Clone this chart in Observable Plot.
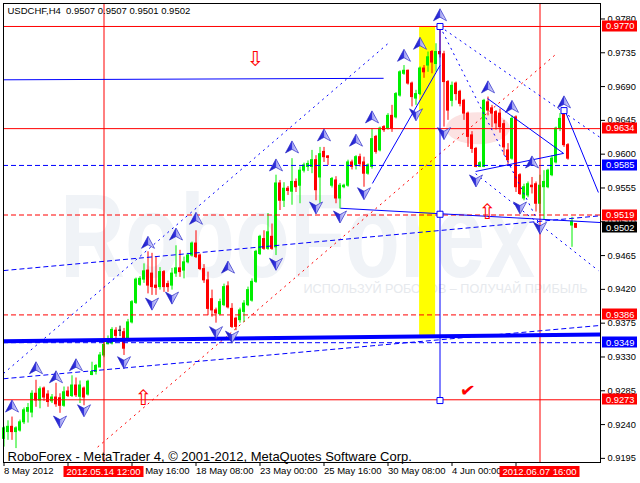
<!DOCTYPE html>
<html><head><meta charset="utf-8">
<script src="https://cdn.jsdelivr.net/npm/d3@7"></script>
<script src="https://cdn.jsdelivr.net/npm/@observablehq/plot@0.6"></script>
<style>html,body{margin:0;padding:0;background:#fff} svg{display:block}</style>
</head><body><div id="chart"></div>
<script>
// ---------- texts ----------
const symbolTitle = "USDCHF,H4\u00a0 0.9507 0.9507 0.9501 0.9502";
const footerText = "RoboForex - MetaTrader 4, \u00a9 2001-2012, MetaQuotes Software Corp.";
const watermarkText = "RoboForex";
const taglineText = "ИСПОЛЬЗУЙ РОБОТОВ – ПОЛУЧАЙ ПРИБЫЛЬ";

// ---------- H4 candles (price in 1/10000) ----------
const barOpen = [9221,9230,9237,9230,9232,9243,9257,9256,9281,9272, 9288,9280,9271,9276,9275,9265,9284,9278,9292,9277,
 9288,9280,9306,9310,9316,9332,9347,9348,9365,9365, 9363,9352,9376,9402,9426,9433,9445,9441,9425,9423,
 9443,9427,9425,9441,9448,9445,9456,9465,9481,9465, 9447,9432,9407,9392,9387,9399,9424,9394,9381,9379,
 9390,9399,9405,9430,9467,9487,9474,9490,9476,9561, 9538,9554,9550,9563,9558,9578,9583,9583,9592,9569,
 9603,9597,9558,9565,9541,9556,9558,9589,9585,9596, 9589,9574,9583,9623,9605,9636,9634,9651,9649,9678,
 9707,9711,9694,9674,9680,9714,9718,9736,9720,9736, 9733,9696,9671,9694,9683,9671,9654,9625,9607,9583,
 9583,9669,9661,9656,9654,9640,9605,9594,9649,9572, 9541,9545,9558,9560,9534,9556,9556,9572,9589,9634,
 9656,9612,9505,9507];
const barHigh = [9237,9245,9250,9237,9246,9262,9268,9285,9299,9290, 9290,9285,9280,9295,9281,9290,9290,9305,9302,9298,
 9290,9299,9323,9320,9336,9351,9358,9369,9369,9371, 9368,9380,9405,9435,9437,9454,9470,9468,9463,9449,
 9445,9431,9448,9478,9472,9463,9468,9483,9498,9467, 9453,9443,9419,9395,9407,9427,9430,9401,9383,9395,
 9405,9423,9434,9472,9492,9498,9521,9507,9572,9565, 9562,9557,9594,9567,9583,9588,9591,9605,9598,9609,
 9609,9598,9569,9570,9561,9560,9592,9592,9598,9600, 9596,9587,9634,9625,9636,9638,9654,9665,9682,9711,
 9718,9712,9696,9685,9716,9718,9736,9738,9747,9770, 9737,9698,9696,9696,9685,9673,9656,9630,9609,9590,
 9673,9676,9665,9658,9660,9645,9614,9651,9651,9574, 9560,9563,9569,9563,9572,9578,9580,9598,9636,9654,
 9660,9614,9516,9507];
const barLow = [9210,9219,9219,9208,9230,9240,9242,9249,9263,9261, 9271,9263,9268,9263,9255,9263,9276,9276,9276,9268,
 9265,9278,9305,9306,9316,9329,9346,9346,9353,9357, 9332,9350,9374,9400,9424,9428,9414,9412,9412,9419,
 9416,9416,9419,9436,9436,9434,9454,9463,9461,9445, 9428,9385,9383,9375,9385,9397,9394,9368,9365,9375,
 9376,9397,9403,9428,9465,9472,9472,9472,9465,9525, 9529,9545,9532,9549,9534,9575,9577,9574,9538,9534,
 9589,9585,9555,9534,9527,9554,9556,9579,9579,9583, 9556,9572,9580,9600,9603,9629,9632,9629,9647,9676,
 9705,9692,9663,9665,9678,9701,9709,9707,9709,9728, 9636,9645,9663,9671,9663,9645,9609,9601,9582,9582,
 9582,9651,9635,9632,9628,9598,9585,9592,9549,9545, 9538,9542,9547,9523,9521,9512,9554,9570,9587,9630,
 9609,9592,9476,9501];
const barClose = [9235,9237,9230,9235,9243,9259,9262,9281,9272,9287, 9276,9270,9276,9267,9265,9283,9278,9292,9279,9292,
 9276,9297,9310,9318,9332,9346,9353,9366,9358,9365, 9341,9376,9403,9433,9434,9444,9425,9423,9422,9443,
 9423,9423,9441,9448,9443,9456,9465,9481,9463,9447, 9432,9394,9392,9388,9403,9423,9396,9370,9370,9392,
 9401,9419,9430,9470,9490,9474,9496,9474,9561,9538, 9554,9551,9563,9556,9578,9585,9587,9592,9552,9600,
 9596,9595,9567,9541,9558,9558,9589,9583,9596,9587, 9574,9585,9620,9603,9634,9632,9651,9634,9680,9709,
 9711,9694,9676,9680,9714,9709,9729,9722,9736,9733, 9696,9658,9691,9680,9667,9654,9623,9607,9583,9588,
 9671,9658,9654,9641,9636,9609,9592,9647,9556,9547, 9556,9560,9556,9534,9558,9563,9578,9594,9634,9647,
 9612,9594,9510,9502];

// ---------- axes ----------
const yTickValues = [0.9195,0.9240,0.9285,0.9330,0.9375,0.9420,0.9465,0.9510,0.9555,0.9600,0.9645,0.9690,0.9735,0.9780];
const xTickBars = [0,16,32,48,64,80,96,112,128];
const xTickLabels = ["8 May 2012","11 May 00:00","15 May 16:00","18 May 08:00","23 May 00:00","25 May 16:00","30 May 08:00","4 Jun 00:00","6 Jun 16:00"];
const crosshairBars = [25, 134];
const crosshairLabels = ["2012.05.14 12:00", "2012.06.07 16:00"];

// ---------- horizontal levels ----------
const redSolidLevels = [0.9770, 0.9634, 0.9273];
const redDashLevels = [0.9519, 0.9386];
const blueDashLevels = [0.9585, 0.9349];

// ---------- fractals ----------
const fractalUpBar = [2,8,13,18,36,43,48,56,68,72,80,88,92,100,104,109,121,127,132,140];
const fractalUpPrice = [0.9264,0.9315,0.9303,0.9319,0.9482,0.9493,0.9514,0.9449,0.9585,0.9609,0.9625,0.9618,0.9649,0.9731,0.9747,0.9785,0.9689,0.9663,0.9589,0.9669];
const fractalDownBar = [14,20,30,37,42,53,57,68,78,84,90,103,110,118,129,134];
const fractalDownPrice = [0.9244,0.9259,0.9323,0.9401,0.9409,0.9363,0.9357,0.9454,0.9529,0.9517,0.9548,0.9653,0.9628,0.9565,0.9529,0.9502];

// ---------- drawn objects: [bar1, price1, bar2, price2] ----------
const blueDottedLines = [[-0.125,0.9308,96.6,0.9750],[109,0.9770,149.1,0.9622],[109,0.9770,134.1,0.9504],[117.9,0.9574,148.6,0.9445]];
const blueDashedLines = [[-0.125,0.9445,149.1,0.9518],[-0.125,0.9301,149.1,0.9372]];
const redDottedLines = [[23.4,0.9210,138.4,0.9735]];
const blueSolidLines = [[-0.125,0.9699,94.9,0.9701],[92.1,0.9561,109,0.9718],[84.1,0.9528,149.1,0.9509],
  [120.9,0.9674,139.9,0.9601],[117.9,0.9577,139.9,0.9601],[140.4,0.9656,148.6,0.9549],[109,0.9770,109,0.9273]];
const blueThickLines = [[-0.125,0.9351,149.1,0.9360]];
const anchorSquares = [[109,0.9770],[109,0.9520],[109,0.9272],[140,0.9658]];
const yellowZone = [[103.9,0.9358,107.9,0.9770]];
const pinkZone = [[118.6,0.9634]];
const redArrowUp = [[34.9,0.9275],[120.9,0.9522]];
const redArrowDown = [[62.9,0.9727]];
const redCheck = [[115.9,0.9285]];

// ---------- build ----------
const FONT = "'Liberation Sans',Arial,sans-serif";
const bars = barOpen.map((o, i) => ({i, open: o/1e4, high: barHigh[i]/1e4, low: barLow[i]/1e4, close: barClose[i]/1e4}));
const candleColor = d => d.close > d.open ? "#00ee00" : d.close < d.open ? "#ff0000" : "#000000";
const seg = a => a.map(([b1,p1,b2,p2]) => ({b1,p1,b2,p2}));
const pts = a => a.map(([b,p]) => ({b,p}));
const lastClose = bars[bars.length-1].close;
const tags = [
  ...redSolidLevels.map(v => ({v, c: "#ff0000"})),
  ...redDashLevels.map(v => ({v, c: "#ff0000"})),
  ...blueDashLevels.map(v => ({v, c: "#0000ff"})),
  {v: lastClose, c: "#000000"}
];

const upSym = {draw(ctx, size){const r=Math.sqrt(size/Math.PI);ctx.moveTo(0,-r);ctx.lineTo(r,r*0.85);ctx.lineTo(0,r*0.3);ctx.lineTo(-r,r*0.85);ctx.closePath();}};
const downSym = {draw(ctx, size){const r=Math.sqrt(size/Math.PI);ctx.moveTo(0,r);ctx.lineTo(r,-r*0.85);ctx.lineTo(0,-r*0.3);ctx.lineTo(-r,-r*0.85);ctx.closePath();}};

const defsMark = () => {
  const g = d3.create("svg:g");
  const lg = g.append("defs").append("linearGradient").attr("id","fracGrad").attr("x1","0").attr("x2","1").attr("y1","0").attr("y2","0");
  lg.append("stop").attr("offset","0").attr("stop-color","#1010c0");
  lg.append("stop").attr("offset","0.5").attr("stop-color","#3a3ae0");
  lg.append("stop").attr("offset","0.5").attr("stop-color","#9a9af0");
  lg.append("stop").attr("offset","1").attr("stop-color","#eeeeff");
  return g.node();
};
const watermarkMark = (index, scales, values, dims) => {
  const g = d3.create("svg:g");
  const cx = (dims.marginLeft + dims.width - dims.marginRight) / 2;
  const cy = (dims.marginTop + dims.height - dims.marginBottom) / 2;
  g.append("text").attr("x", cx - 4).attr("y", cy + 44).attr("text-anchor","middle")
    .attr("font-family","'Liberation Sans',Arial,sans-serif").attr("font-weight","bold").attr("font-size",118)
    .attr("fill","#f0f3f7").attr("textLength",475).attr("lengthAdjust","spacingAndGlyphs").text(watermarkText);
  g.append("text").attr("x", cx + 144).attr("y", cy + 60).attr("text-anchor","middle")
    .attr("font-family","'Liberation Sans',Arial,sans-serif").attr("font-size",13)
    .attr("fill","#e6e9ed").attr("textLength",284).attr("lengthAdjust","spacingAndGlyphs").text(taglineText);
  return g.node();
};
const ellipseMark = (index, scales) => {
  const g = d3.create("svg:g");
  for (const [b,p] of pinkZone) g.append("ellipse").attr("cx", scales.x(b)).attr("cy", scales.y(p)).attr("rx",32).attr("ry",16).attr("fill","#fce2e2");
  return g.node();
};
const tagMark = (index, scales, values, dims) => {
  const g = d3.create("svg:g").attr("font-family", FONT).attr("font-size", 9.3);
  const x0 = dims.width - dims.marginRight + 2;
  for (const t of tags) {
    const y = scales.y(t.v);
    g.append("rect").attr("x", x0).attr("y", Math.round(y) - 5.5).attr("width", 35).attr("height", 11).attr("fill", t.c);
    g.append("text").attr("x", x0 + 4).attr("y", y).attr("dy","0.36em").attr("text-anchor","start").attr("fill","white").text(t.v.toFixed(4));
  }
  return g.node();
};
const timeTagMark = (index, scales, values, dims) => {
  const g = d3.create("svg:g").attr("font-family", FONT).attr("font-size", 9.5);
  const y0 = dims.height - dims.marginBottom + 4;
  crosshairBars.forEach((b, k) => {
    const x = scales.x(b);
    g.append("rect").attr("x", x - 40).attr("y", y0).attr("width", 80).attr("height", 11).attr("fill", "#ff0000");
    g.append("text").attr("x", x).attr("y", y0 + 5.5).attr("dy","0.36em").attr("text-anchor","middle").attr("fill","white").text(crosshairLabels[k]);
  });
  return g.node();
};

const chart = Plot.plot({
  width: 640, height: 483,
  marginLeft: 3, marginRight: 40, marginTop: 3, marginBottom: 21,
  x: {type: "linear", domain: [-0.125, 149.125]},
  y: {type: "linear", domain: [0.91895, 0.98006]},
  style: {fontFamily: FONT, fontSize: "9.5px", background: "white", color: "black", overflow: "visible"},
  marks: [
    defsMark,
    watermarkMark,
    Plot.rect(seg(yellowZone), {x1: "b1", y1: "p1", x2: "b2", y2: "p2", fill: "#ffff00"}),
    ellipseMark,
    Plot.ruleX(bars, {x: "i", y1: "low", y2: "high", stroke: candleColor}),
    Plot.rect(bars, {x1: d => d.i - 0.375, x2: d => d.i + 0.375, y1: "open", y2: "close", fill: candleColor, insetTop: -0.5, insetBottom: -0.5}),
    Plot.ruleY(redSolidLevels, {stroke: "#ff0000"}),
    Plot.ruleY(redDashLevels, {stroke: "#ff0000", strokeDasharray: "5,3"}),
    Plot.ruleY(blueDashLevels, {stroke: "#0000ff", strokeDasharray: "5,3"}),
    Plot.ruleX(crosshairBars, {stroke: "#ff0000"}),
    Plot.link(seg(blueDottedLines), {x1: "b1", y1: "p1", x2: "b2", y2: "p2", stroke: "#0000ff", strokeDasharray: "2,4"}),
    Plot.link(seg(redDottedLines), {x1: "b1", y1: "p1", x2: "b2", y2: "p2", stroke: "#ff0000", strokeDasharray: "2,4"}),
    Plot.link(seg(blueDashedLines), {x1: "b1", y1: "p1", x2: "b2", y2: "p2", stroke: "#0000ff", strokeDasharray: "5,3"}),
    Plot.link(seg(blueSolidLines), {x1: "b1", y1: "p1", x2: "b2", y2: "p2", stroke: "#0000ff"}),
    Plot.link(seg(blueThickLines), {x1: "b1", y1: "p1", x2: "b2", y2: "p2", stroke: "#0000ff", strokeWidth: 4}),
    Plot.dot(fractalUpBar.map((b, k) => ({b, p: fractalUpPrice[k]})), {x: "b", y: "p", symbol: upSym, r: 6.5, fill: "url(#fracGrad)", stroke: "#2828c8", strokeWidth: 0.7}),
    Plot.dot(fractalDownBar.map((b, k) => ({b, p: fractalDownPrice[k]})), {x: "b", y: "p", symbol: downSym, r: 6.5, fill: "url(#fracGrad)", stroke: "#2828c8", strokeWidth: 0.7}),
    Plot.text(pts(redArrowUp), {x: "b", y: "p", text: () => "\u21e7", fill: "#ff0000", fontSize: 21, fontFamily: "DejaVu Sans"}),
    Plot.text(pts(redArrowDown), {x: "b", y: "p", text: () => "\u21e9", fill: "#ff0000", fontSize: 21, fontFamily: "DejaVu Sans"}),
    Plot.text(pts(redCheck), {x: "b", y: "p", text: () => "\u2714", fill: "#ff0000", fontSize: 18, fontFamily: "DejaVu Sans", rotate: 8}),
    Plot.dot(pts(anchorSquares), {x: "b", y: "p", symbol: "square", r: 3.4, stroke: "#0000ff", fill: "white", strokeWidth: 1}),
    Plot.frame({stroke: "black"}),
    Plot.axisY({anchor: "right", ticks: yTickValues, tickFormat: d => d.toFixed(4), tickSize: 4, tickPadding: 3, fontSize: 9.3, label: null}),
    Plot.axisX({anchor: "bottom", ticks: xTickBars, tickFormat: d => xTickLabels[xTickBars.indexOf(d)], tickSize: 4, tickPadding: 1, textAnchor: "start", dx: 0, fontSize: 9.5, label: null}),
    Plot.text([symbolTitle], {frameAnchor: "top-left", dx: 4, dy: 7, lineAnchor: "middle", textAnchor: "start", fontSize: 9.5, fill: "black"}),
    Plot.text([footerText], {frameAnchor: "bottom-left", dx: 4, dy: -6, lineAnchor: "middle", textAnchor: "start", fontSize: 13, fill: "black"}),
    tagMark,
    timeTagMark
  ]
});
document.getElementById("chart").appendChild(chart);
</script>
</body></html>
